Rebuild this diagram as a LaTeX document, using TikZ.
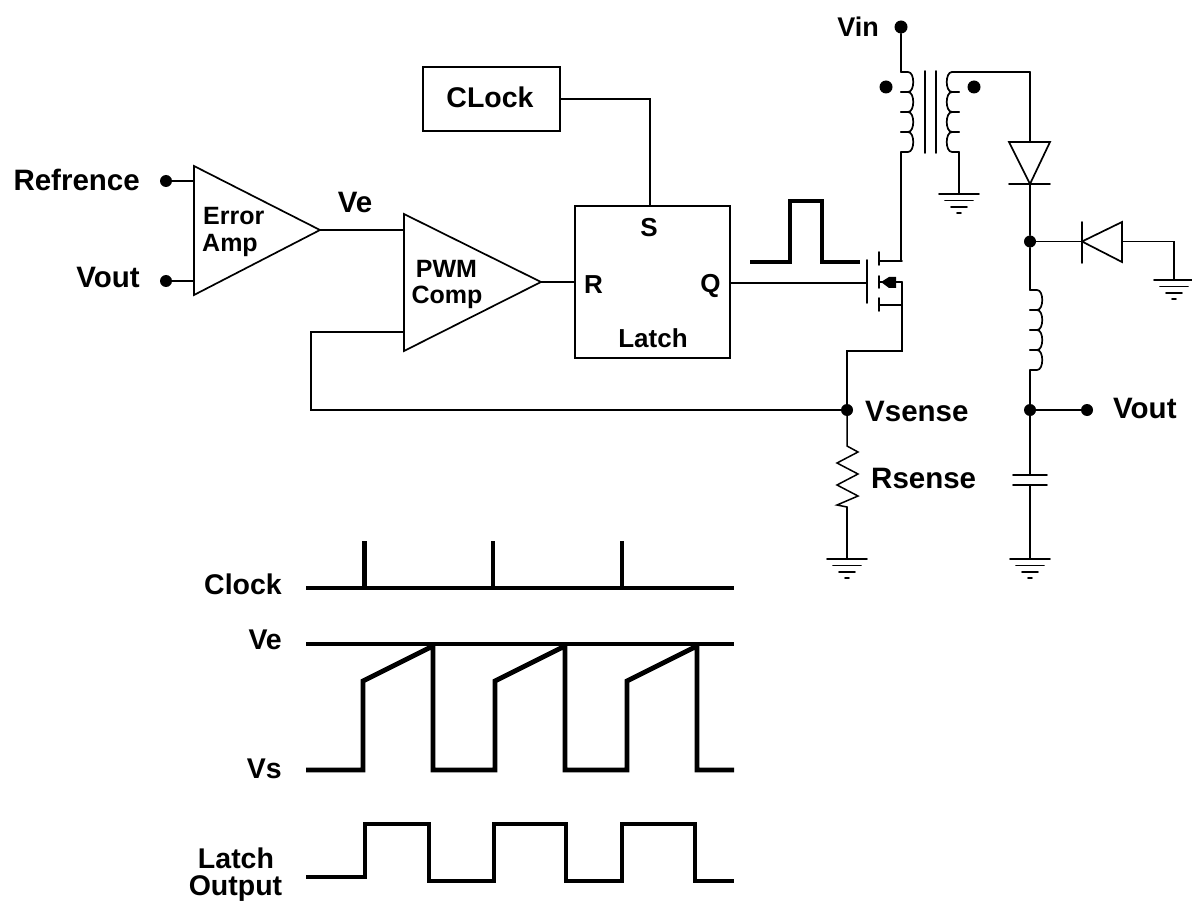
\documentclass[tikz,border=0pt]{standalone}
\usepackage{fontspec}
\setmainfont{Liberation Sans}
\usetikzlibrary{calc}
\tikzset{
  x=1pt,y=-1pt,
  wire/.style={line width=1.7pt,line cap=round,line join=miter},
  wave/.style={line width=4.8pt,line cap=butt,line join=miter},
  blk/.style={draw,line width=1.7pt,inner sep=0pt},
  lab/.style={inner sep=0pt,font=\fontsize{29.5}{29.5}\selectfont\bfseries,align=center},
  boxlab/.style={lab,anchor=base,font=\fontsize{26}{26}\selectfont\bfseries},
  amplab/.style={lab,anchor=base,font=\fontsize{25}{25}\selectfont\bfseries},
  wavelab/.style={lab,font=\fontsize{28.5}{28.5}\selectfont\bfseries},
  dot/.style={circle,fill=black,minimum size=12pt,inner sep=0pt},
  pole/.style={circle,fill=black,minimum size=13pt,inner sep=0pt},
}
\newcommand{\gnd}[1]{%
  \draw[wire] ($(#1)+(-20,0)$) -- ($(#1)+(20,0)$);
  \draw[wire] ($(#1)+(-14,6.5)$) -- ($(#1)+(14,6.5)$);
  \draw[wire] ($(#1)+(-8,13)$) -- ($(#1)+(8,13)$);
  \draw[wire] ($(#1)+(-2,19)$) -- ($(#1)+(2,19)$);
}
\newcommand{\coil}[2]{% start coordinate name, direction (+1/-1)
  \foreach \k in {0,1,2,3}{
    \draw[wire] ($(#1)+(0,\k*20)$) -- ($(#1)+(#2*7,\k*20)$)
      .. controls ($(#1)+(#2*14,\k*20)$) and ($(#1)+(#2*14,\k*20+20)$) .. ($(#1)+(#2*7,\k*20+20)$)
      -- ($(#1)+(0,\k*20+20)$);
  }
}
\begin{document}
\begin{tikzpicture}
\useasboundingbox (0,0) rectangle (1192,904);
% blocks
\node[blk,minimum width=137pt,minimum height=64pt] (clk) at (491.5,99) {};
\node[lab,anchor=base,font=\fontsize{28.5}{28.5}\selectfont\bfseries] (clktxt) at (490,108) {CLock};
\node[blk,minimum width=155pt,minimum height=152pt] (latch) at (652.5,282) {};
\node[boxlab] (ltS) at (649,237) {S};
\node[boxlab] (ltR) at (593.5,294) {R};
\node[boxlab] (ltQ) at (710.5,293) {Q};
\node[boxlab] (ltL) at (653,347) {Latch};
% amplifiers
\coordinate (ea1) at (194,166); \coordinate (ea2) at (194,295); \coordinate (eao) at (320,230);
\draw[wire] (ea1) -- (eao) -- (ea2) -- cycle;
\node[amplab,anchor=base west] (eat1) at (203,225) {Error};
\node[amplab,anchor=base west] (eat2) at (202,252) {Amp};
\coordinate (pw1) at (404,214); \coordinate (pw2) at (404,351); \coordinate (pwo) at (541,282);
\draw[wire] (pw1) -- (pwo) -- (pw2) -- cycle;
\node[amplab] (pwt1) at (446.5,277) {PWM};
\node[amplab] (pwt2) at (447,303) {Comp};
% inputs
\node[dot] (dref) at (166,181) {};
\node[dot] (dvo) at (166,281) {};
\node[lab,anchor=east] (tref) at (140,180) {Refrence};
\node[lab,anchor=east] (tvo) at (140,277) {Vout};
\coordinate (eaa) at (194,181); \coordinate (eab) at (194,281);
\draw[wire] (dref) -- (eaa);
\draw[wire] (dvo) -- (eab);
\coordinate (pwa) at (404,230);
\draw[wire] (eao) -- (pwa);
\node[lab,anchor=base] (tve) at (355,213) {Ve};
\coordinate (lr) at (575,282);
\draw[wire] (pwo) -- (lr);
\coordinate (cl1) at (650,99);
\coordinate (ls) at (650,206);
\draw[wire] (clk.east |- cl1) -- (cl1) -- (ls);
% pulse
\draw[wave,line width=4pt] (750,262) -- (790,262) -- (790,201) -- (822,201) -- (822,262) -- (860,262);
% mosfet
\coordinate (gate) at (867,283);
\coordinate (lq) at (730,283);
\draw[wire] (lq) -- (gate);
\draw[wire] (867,260) -- (867,303);
\draw[wire] (879,252) -- (879,265);
\draw[wire] (879,276) -- (879,288);
\draw[wire] (879,298) -- (879,311);
\coordinate (md) at (902,261);
\coordinate (ms) at (902,305);
\coordinate (mb) at (902,282);
\draw[wire] (879,261) -- (md);
\draw[wire] (879,305) -- (ms);
\draw[wire] (mb) -- (879,282);
\fill (881,282) -- (889,277) -- (896,277) -- (896,288) -- (889,288) -- cycle;
% primary
\node[pole] (dvin) at (901,27) {};
\node[lab,anchor=east,font=\fontsize{27}{27}\selectfont\bfseries] (tvin) at (879,27) {Vin};
\coordinate (p1) at (901,72);
\coordinate (p2) at (901,152);
\draw[wire] (dvin) -- (p1);
\coil{p1}{1}
\draw[wire] (p2) -- (901,261);
\draw[wire] (925,71) -- (925,153);
\draw[wire] (936,71) -- (936,153);
\node[pole] (dp) at (886,87) {};
\node[pole] (ds) at (974,87) {};
% secondary
\coordinate (s1) at (959,72);
\coordinate (s2) at (959,152);
\coil{s1}{-1}
\coordinate (g1) at (959,194);
\draw[wire] (s2) -- (g1);
\gnd{g1}
\coordinate (t1) at (1030,72);
\draw[wire] (952,72) -- (t1);
% diode D1
\coordinate (d1a) at (1030,142);
\coordinate (d1k) at (1030,184);
\draw[wire] (t1) -- (d1a);
\draw[wire] (1009,142) -- (1050,142) -- (d1k) -- cycle;
\draw[wire] (1009,184) -- (1050,184);
\node[dot] (j1) at (1030,241.5) {};
\draw[wire] (d1k) -- (j1);
% diode D2
\coordinate (d2k) at (1082,241.5);
\coordinate (d2a) at (1122,241.5);
\draw[wire] (j1) -- (d2k);
\draw[wire] (1082,222) -- (1082,263);
\draw[wire] (d2k) -- (1122,222) -- (1122,262) -- cycle;
\coordinate (g2c) at (1174,241.5);
\coordinate (g2) at (1174,280);
\draw[wire] (d2a) -- (g2c) -- (g2);
\begin{scope}\clip (1100,270) rectangle (1192,320); \gnd{g2} \end{scope}
% output inductor
\coordinate (l1) at (1030,290);
\coordinate (l2) at (1030,370);
\draw[wire] (j1) -- (l1);
\coil{l1}{1}
\node[dot] (j2) at (1030,410) {};
\draw[wire] (l2) -- (j2);
\node[dot] (dvout) at (1087,410) {};
\draw[wire] (j2) -- (dvout);
\node[lab,anchor=west] (tvout) at (1113,408) {Vout};
% capacitor
\coordinate (c1) at (1030,475);
\coordinate (c2) at (1030,485);
\draw[wire] (j2) -- (c1);
\draw[wire] (1013,475) -- (1047,475);
\draw[wire] (1013,485) -- (1047,485);
\coordinate (g3) at (1030,559);
\draw[wire] (c2) -- (g3);
\gnd{g3}
% sense
\coordinate (m1) at (847,351);
\node[dot] (js) at (847,410) {};
\draw[wire] (mb) -- (ms) -- (902,351) -- (m1) -- (js);
\coordinate (f1) at (311,410);
\coordinate (f2) at (311,332);
\coordinate (pwb) at (404,332);
\draw[wire] (js) -- (f1) -- (f2) -- (pwb);
\node[lab,anchor=west] (tvs) at (865,411) {Vsense};
\coordinate (r1) at (847,446);
\coordinate (r2) at (847,507);
\draw[wire,line width=1.5pt] (js) -- (r1) -- (858,452) -- (837,463) -- (858,474) -- (837,485) -- (858,496) -- (837,505) -- (r2);
\node[lab,anchor=west] (trs) at (871,478) {Rsense};
\coordinate (g4) at (847,559);
\draw[wire] (r2) -- (g4);
\gnd{g4}
% waveforms
\draw[wave] (306,588) -- (734,588);
\draw[wave] (364.5,588) -- (364.5,541);
\draw[wave] (493,588) -- (493,541);
\draw[wave] (622,588) -- (622,541);
\draw[wave] (306,644) -- (734,644);
\draw[wave] (306,770) -- (363,770) -- (363,681) -- (433,646) -- (433,770) -- (495,770) -- (495,681) -- (565,646) -- (565,770) -- (627,770) -- (627,681) -- (697,646) -- (697,770) -- (734,770);
\draw[wave] (306,877) -- (365,877) -- (365,824) -- (429,824) -- (429,881) -- (494,881) -- (494,824) -- (566,824) -- (566,881) -- (622,881) -- (622,824) -- (695,824) -- (695,881) -- (734,881);
\node[wavelab,anchor=east] (tc) at (282,584) {Clock};
\node[wavelab,anchor=east] (tv) at (282,640) {Ve};
\node[wavelab,anchor=east] (tvs2) at (282,769) {Vs};
\node[wavelab,anchor=base] (tl1) at (236,868) {Latch};
\node[wavelab,anchor=base] (tl2) at (235.5,895) {Output};
\end{tikzpicture}
\end{document}
